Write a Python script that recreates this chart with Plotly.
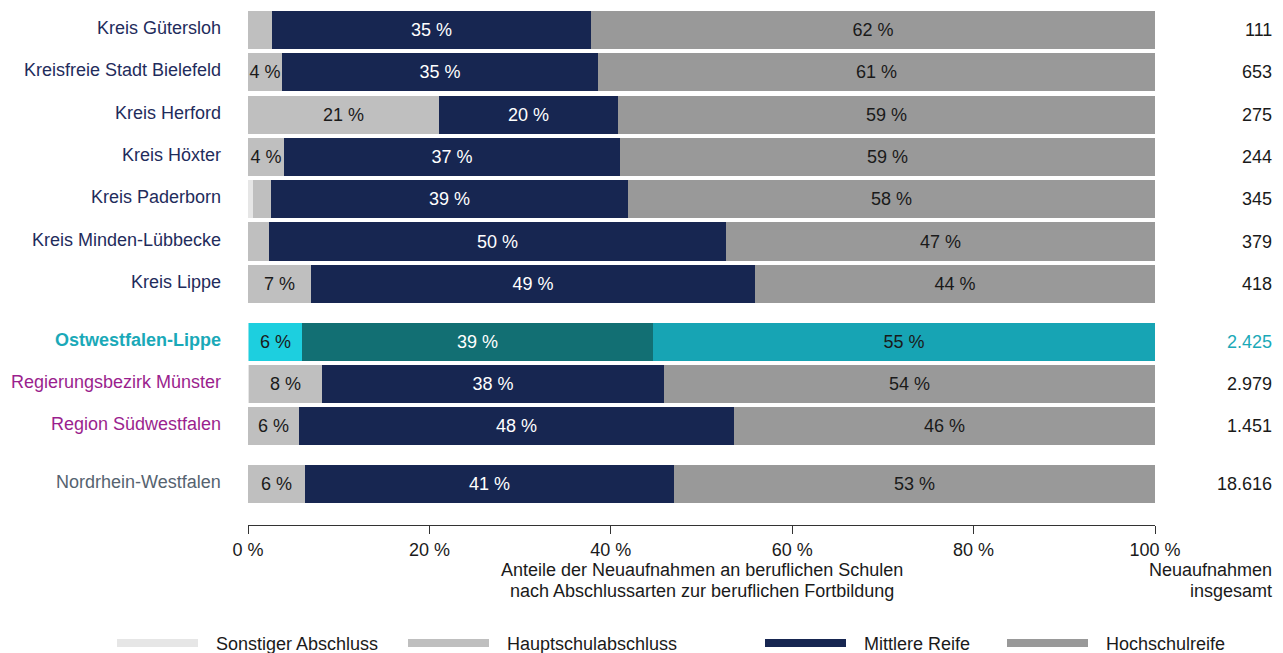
import plotly.graph_objects as go

# Regions, top to bottom
regions = [
    "Kreis Gütersloh", "Kreisfreie Stadt Bielefeld", "Kreis Herford", "Kreis Höxter",
    "Kreis Paderborn", "Kreis Minden-Lübbecke", "Kreis Lippe",
    "Ostwestfalen-Lippe", "Regierungsbezirk Münster", "Region Südwestfalen",
    "Nordrhein-Westfalen",
]
# block each row belongs to (a small gap separates the blocks)
blocks = [0, 0, 0, 0, 0, 0, 0, 1, 1, 1, 2]

# Shares of new admissions by school-leaving qualification (%)
sonstiger = [0.0, 0.0, 0.0, 0.0, 0.5, 0.0, 0.0, 0.1, 0.1, 0.0, 0.0]
hauptschul = [2.6, 3.8, 21.1, 4.0, 2.0, 2.3, 6.9, 5.8, 8.1, 5.6, 6.3]
mittlere = [35.2, 34.8, 19.7, 37.0, 39.4, 50.4, 49.0, 38.8, 37.7, 48.0, 40.7]
hochschul = [62.2, 61.4, 59.2, 59.0, 58.1, 47.3, 44.1, 55.3, 54.1, 46.4, 53.0]

# Total new admissions
totals = [111, 653, 275, 244, 345, 379, 418, 2425, 2979, 1451, 18616]

x_ticks = [0, 20, 40, 60, 80, 100]

HIGHLIGHT = "Ostwestfalen-Lippe"

FONT = "Liberation Sans, Arial, sans-serif"
FS = 18
W, H = 1283, 653
ML, MR, MT, MB = 248, 128, 0, 128
PW, PH = W - ML - MR, H - MT - MB

BLOCK_GAP = 0.37
ypos = [i + BLOCK_GAP * b for i, b in enumerate(blocks)]

base_colors = {
    "Sonstiger Abschluss": "#e6e6e6",
    "Hauptschulabschluss": "#bfbfbf",
    "Mittlere Reife": "#172651",
    "Hochschulreife": "#999999",
}
hl_colors = {
    "Sonstiger Abschluss": "#8fe3ea",
    "Hauptschulabschluss": "#1dcfdf",
    "Mittlere Reife": "#126f73",
    "Hochschulreife": "#17a4b4",
}
text_colors = {
    "Sonstiger Abschluss": "#1a1a1a",
    "Hauptschulabschluss": "#1a1a1a",
    "Mittlere Reife": "#ffffff",
    "Hochschulreife": "#1a1a1a",
}

series = [
    ("Sonstiger Abschluss", sonstiger),
    ("Hauptschulabschluss", hauptschul),
    ("Mittlere Reife", mittlere),
    ("Hochschulreife", hochschul),
]

fig = go.Figure()
for name, vals in series:
    colors = [hl_colors[name] if r == HIGHLIGHT else base_colors[name] for r in regions]
    texts = [f"{round(v)} %" if v >= 3.5 else "" for v in vals]
    fig.add_trace(go.Bar(
        x=vals, y=ypos, orientation="h", name=name,
        width=0.9,
        marker=dict(color=colors, line=dict(width=0)),
        text=texts, textposition="inside", insidetextanchor="middle",
        textangle=0, constraintext="none",
        textfont=dict(family=FONT, size=FS, color=text_colors[name]),
        showlegend=False, hoverinfo="skip",
    ))

# Region labels on the left
label_colors = []
for r, b in zip(regions, blocks):
    if r == HIGHLIGHT:
        label_colors.append("#1aa9b8")
    elif b == 1:
        label_colors.append("#9b1f8e")
    elif b == 2:
        label_colors.append("#566370")
    else:
        label_colors.append("#1f2c5c")

annotations = []
for r, y, c in zip(regions, ypos, label_colors):
    txt = f"<b>{r}</b>" if r == HIGHLIGHT else r
    annotations.append(dict(
        x=0, y=y, xref="paper", yref="y", xanchor="right", yanchor="middle",
        xshift=-25, yshift=2, text=txt, showarrow=False,
        font=dict(family=FONT, size=FS, color=c),
    ))

# Totals on the right
for r, y, n in zip(regions, ypos, totals):
    annotations.append(dict(
        x=1, y=y, xref="paper", yref="y", xanchor="right", yanchor="middle",
        xshift=119, text=f"{n:,}".replace(",", "."), showarrow=False,
        font=dict(family=FONT, size=FS, color="#1aa9b8" if r == HIGHLIGHT else "#1a1a1a"),
    ))


def px_x(px):
    return (px - ML) / PW


def px_y(px):
    return 1 - (px - MT) / PH


# Axis title and totals column header, one annotation per line
title_lines = [
    ("Anteile der Neuaufnahmen an beruflichen Schulen", 570),
    ("nach Abschlussarten zur beruflichen Fortbildung", 591),
]
for line, ypx in title_lines:
    annotations.append(dict(
        x=0.5, y=px_y(ypx), xref="paper", yref="paper", xanchor="center", yanchor="middle",
        text=line, showarrow=False, font=dict(family=FONT, size=FS, color="#1a1a1a"),
    ))
header_lines = [("Neuaufnahmen", 570), ("insgesamt", 591)]
for line, ypx in header_lines:
    annotations.append(dict(
        x=px_x(1274), y=px_y(ypx), xref="paper", yref="paper", xanchor="right", yanchor="middle",
        text=line, showarrow=False, font=dict(family=FONT, size=FS, color="#1a1a1a"),
    ))

# Legend drawn with wide flat swatches
legend_items = [
    ("Sonstiger Abschluss", 117),
    ("Hauptschulabschluss", 408),
    ("Mittlere Reife", 765),
    ("Hochschulreife", 1007),
]
shapes = []
for name, x0 in legend_items:
    shapes.append(dict(
        type="rect", xref="paper", yref="paper",
        x0=px_x(x0), x1=px_x(x0 + 81), y0=px_y(647), y1=px_y(639),
        fillcolor=base_colors[name], line=dict(width=0),
    ))
    annotations.append(dict(
        x=px_x(x0 + 97), y=px_y(644), xref="paper", yref="paper",
        xanchor="left", yanchor="middle", text=name, showarrow=False,
        font=dict(family=FONT, size=FS, color="#1a1a1a"),
    ))

unit = 42.3
y_top = -(30 - MT) / unit
y_bot = y_top + PH / unit

fig.update_layout(
    width=W, height=H,
    margin=dict(l=ML, r=MR, t=MT, b=MB),
    barmode="stack", bargap=0,
    plot_bgcolor="white", paper_bgcolor="white",
    font=dict(family=FONT, size=FS, color="#1a1a1a"),
    xaxis=dict(
        range=[0, 100], tickvals=x_ticks, ticktext=[f"{v} %" for v in x_ticks],
        showgrid=False, zeroline=False, showline=True, linecolor="#333333", linewidth=1,
        ticks="outside", ticklen=8, tickcolor="#333333",
        tickfont=dict(family=FONT, size=FS, color="#1a1a1a"),
        fixedrange=True,
    ),
    yaxis=dict(
        range=[y_bot, y_top], showticklabels=False, showgrid=False, zeroline=False,
        showline=False, ticks="", fixedrange=True,
    ),
    annotations=annotations,
    shapes=shapes,
    showlegend=False,
)

fig.write_html("out.html")
